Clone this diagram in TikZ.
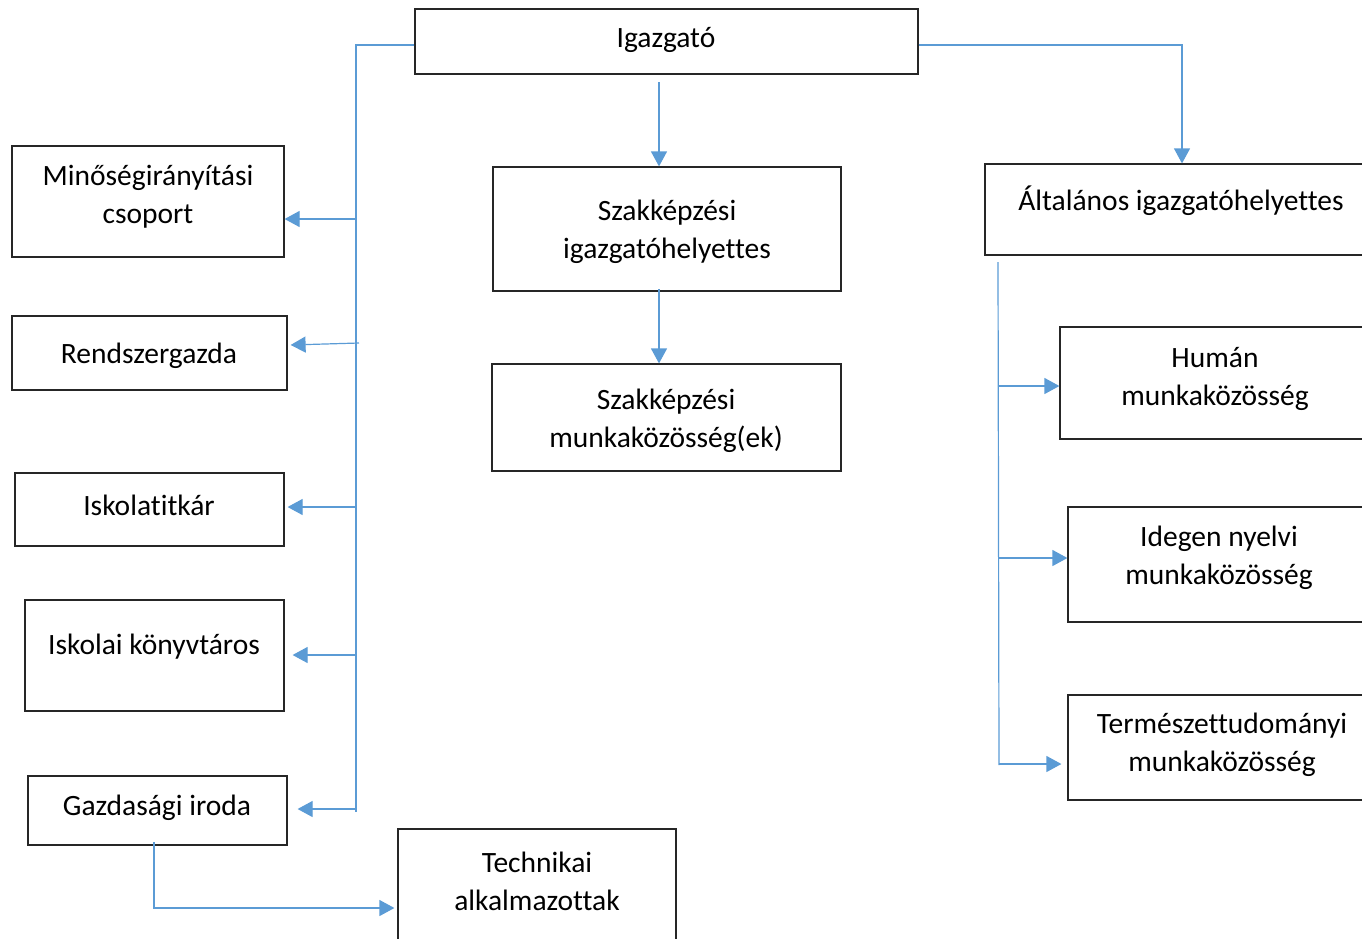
\documentclass[tikz,border=0pt]{standalone}
\usepackage{fontspec}
\setmainfont[Ligatures=NoCommon]{Carlito}
\usetikzlibrary{arrows.meta,fit}
\definecolor{conn}{HTML}{5B9BD5}
\tikzset{
  box/.style={draw=black!85,line width=1.2pt,inner sep=0pt,rectangle},
  lbl/.style={font=\fontsize{29.5}{38}\selectfont,align=center,inner sep=0pt,text=black},
  link/.style={draw=conn,line width=1.2pt},
  arr/.style={link,-{Triangle[length=15pt,width=16pt]}}
}
\begin{document}
\begin{tikzpicture}[x=1pt,y=-1pt]
\useasboundingbox (0,0) rectangle (1362,938);
\clip (0,0) rectangle (1362,938);
% boxes
\node[box, fit={(415,9) (918,74)}] (ig) {};
\node[box, fit={(12,146) (284,257)}] (min) {};
\node[box, fit={(12,316) (287,390)}] (ren) {};
\node[box, fit={(15,473) (284,546)}] (isk) {};
\node[box, fit={(25,600) (284,711)}] (kon) {};
\node[box, fit={(28,776) (287,845)}] (gaz) {};
\node[box, fit={(398,829) (676,960)}] (tec) {};
\node[box, fit={(493,167) (841,291)}] (szi) {};
\node[box, fit={(492,364) (841,471)}] (szm) {};
\node[box, fit={(985,164) (1380,255)}] (alt) {};
\node[box, fit={(1060,327) (1380,439)}] (hum) {};
\node[box, fit={(1068,507) (1380,622)}] (ide) {};
\node[box, fit={(1068,695) (1380,800)}] (ter) {};
% labels
\node[lbl] (tig) at (666,40) {Igazgató};
\node[lbl] (tmin) at (148,197) {Minőségirányítási\\csoport};
\node[lbl] (tren) at (149,356) {Rendszergazda};
\node[lbl] (tisk) at (149,505) {Iskolatitkár};
\node[lbl] (tkon) at (154,647) {Iskolai könyvtáros};
\node[lbl] (tgaz) at (157,808) {Gazdasági iroda};
\node[lbl] (ttec) at (537,881) {Technikai\\alkalmazottak};
\node[lbl] (tszi) at (667,232) {Szakképzési\\igazgatóhelyettes};
\node[lbl] (tszm) at (666,421) {Szakképzési\\munkaközösség(ek)};
\node[lbl] (talt) at (1181,201) {Általános igazgatóhelyettes};
\node[lbl] (thum) at (1215,379) {Humán\\munkaközösség};
\node[lbl] (tide) at (1219,558) {Idegen nyelvi\\munkaközösség};
\node[lbl] (tter) at (1222,745) {Természettudományi\\munkaközösség};
% connector coordinates
\coordinate (lt) at (356,45);
\coordinate (lb) at (356,812);
\coordinate (rt) at (1182,45);
\coordinate (igb) at (659,82);
\coordinate (szb) at (659,289);
\coordinate (rtop) at (998,262);
\coordinate (rbot) at (999,765);
\coordinate (gb) at (154,842);
\coordinate (gc) at (154,908);
% left trunk
\draw[link] (ig.west |- lt) -- (lt) -- (lb);
\draw[arr] (356,219) -- (min.east |- 0,219);
\draw[arr] (359,343) -- ([xshift=3pt]ren.east |- 0,345);
\draw[arr] (356,507) -- ([xshift=3pt]isk.east |- 0,507);
\draw[arr] (356,655) -- ([xshift=8pt]kon.east |- 0,655);
\draw[arr] (356,809) -- ([xshift=10pt]gaz.east |- 0,809);
% centre
\draw[arr] (igb) -- (szi.north -| igb);
\draw[arr] (szb) -- (szm.north -| szb);
% right
\draw[arr] (ig.east |- rt) -- (rt) -- (alt.north -| rt);
\draw[link] (rtop) -- (rbot);
\draw[arr] (999,386) -- (hum.west |- 0,386);
\draw[arr] (999,558) -- (ide.west |- 0,558);
\draw[arr] (999,764) -- ([xshift=-6pt]ter.west |- 0,764);
% bottom
\draw[arr] (gb) -- (gc) -- ([xshift=-3pt]tec.west |- gc);
\end{tikzpicture}
\end{document}
